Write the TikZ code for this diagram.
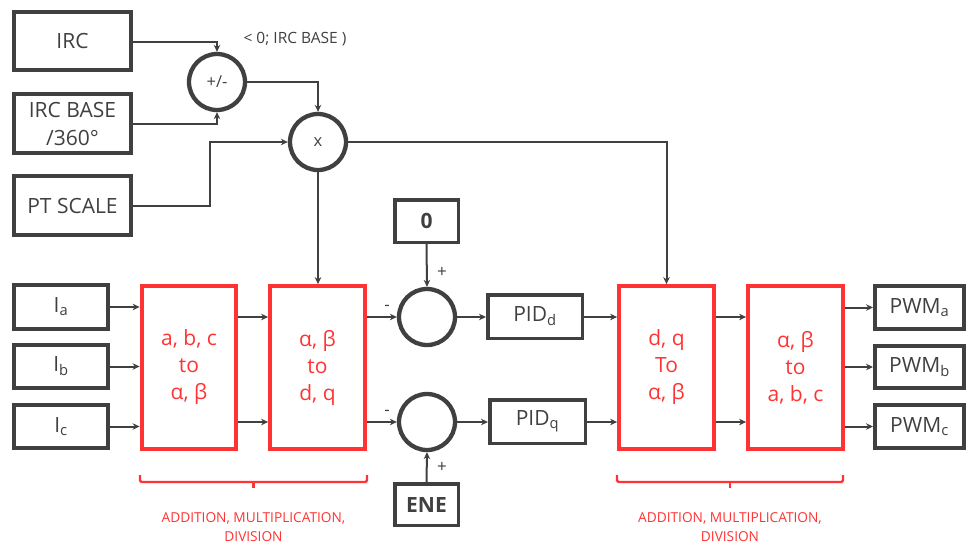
\documentclass[tikz,border=0pt]{standalone}
\usepackage{fontspec}
\setmainfont{Open Sans}
\usetikzlibrary{arrows.meta,calc}
\definecolor{dg}{RGB}{64,64,64}
\definecolor{rd}{RGB}{255,51,51}
\begin{document}
\begin{tikzpicture}[x=1pt,y=-1pt,
  box/.style={draw=dg,line width=4pt,text=dg,inner sep=0pt,align=center,
    font=\fontsize{21}{28}\selectfont},
  thinbox/.style={box,line width=3.5pt},
  bbox/.style={box,line width=3.5pt,font=\fontsize{21}{25}\selectfont\bfseries},
  redbox/.style={draw=rd,line width=4.3pt,text=rd,inner sep=0pt,align=center,
    minimum width=94.5pt,minimum height=162.5pt,font=\fontsize{21}{27}\selectfont},
  sumc/.style={circle,draw=dg,line width=4.3pt,inner sep=0pt,minimum size=56pt,
    text=dg,font=\fontsize{16.5}{18}\selectfont},
  conn/.style={draw=dg,line width=2pt,-{Stealth[length=7pt,width=6.5pt]}},
  lbl/.style={text=dg,inner sep=0pt,font=\fontsize{17}{18}\selectfont},
  brace/.style={draw=rd,line width=2.2pt,rounded corners=1.5pt},
  btxt/.style={text=rd,inner sep=0pt,align=center,font=\fontsize{13.7}{19}\selectfont}]
\useasboundingbox (0,0) rectangle (969,547);

% top inputs
\node[box,minimum width=117pt,minimum height=58pt] (irc) at (72.5,41) {IRC};
\node[box,minimum width=117pt,minimum height=59pt] (base) at (72.5,123.5) {IRC BASE\\/360°};
\node[box,minimum width=117pt,minimum height=59pt] (pt) at (72.5,205.5) {PT SCALE};
\node[sumc] (pm) at (217,82) {+/-};
\node[sumc] (mul) at (318,142) {x};
\node[lbl,font=\fontsize{15.5}{18}\selectfont] (range) at (295,39) {< 0; IRC BASE )};
\coordinate (ptx) at (210,0);

\draw[conn] (irc.east |- 0,42) -| (pm.north);
\draw[conn] (base.east |- 0,124) -| (pm.south);
\draw[conn] (pm.east) -| (mul.north);
\draw[conn] (pt.east) -- (pt.east -| ptx) |- (mul.west);

% current inputs
\node[box,minimum width=94pt,minimum height=43.5pt] (ia) at (61,307) {I\textsubscript{a}};
\node[box,minimum width=94pt,minimum height=43.5pt] (ib) at (61,366.5) {I\textsubscript{b}};
\node[box,minimum width=94pt,minimum height=43.5pt] (ic) at (61,426.5) {I\textsubscript{c}};

\node[redbox] (rb1) at (189,367.5) {a, b, c\\to\\α, β};
\node[redbox] (rb2) at (317.5,367.5) {α, β\\to\\d, q};
\node[redbox] (rb3) at (666.5,367.5) {d, q\\To\\α, β};
\node[redbox] (rb4) at (795.5,367.5) {α, β\\to\\a, b, c};

\node[sumc] (s1) at (427,317) {};
\node[sumc] (s2) at (427,422) {};
\node[bbox,minimum width=63.5pt,minimum height=42.5pt] (zero) at (426.5,221) {0};
\node[bbox,minimum width=63.5pt,minimum height=41.5pt] (ene) at (426.5,504.5) {ENE};
\node[thinbox,minimum width=94.5pt,minimum height=43.5pt] (pidd) at (535,316.5) {PID\textsubscript{d}};
\node[thinbox,minimum width=95.5pt,minimum height=43.5pt] (pidq) at (537.5,421.5) {PID\textsubscript{q}};

\node[box,minimum width=89pt,minimum height=43.5pt] (pwma) at (919.5,307.5) {PWM\textsubscript{a}};
\node[box,minimum width=89pt,minimum height=42.5pt] (pwmb) at (919.5,367) {PWM\textsubscript{b}};
\node[box,minimum width=89pt,minimum height=43.5pt] (pwmc) at (919.5,426.5) {PWM\textsubscript{c}};

\node[lbl] (m1) at (387,308) {-};
\node[lbl] (m2) at (387,413) {-};
\node[lbl] (p1) at (442,272) {+};
\node[lbl] (p2) at (442,467) {+};

% connectors lower
\draw[conn] (ia.east) -- (rb1.west |- ia.east);
\draw[conn] (ib.east) -- (rb1.west |- ib.east);
\draw[conn] (ic.east) -- (rb1.west |- ic.east);
\draw[conn] (rb1.east |- s1) -- (rb2.west |- s1);
\draw[conn] (rb1.east |- s2) -- (rb2.west |- s2);
\draw[conn] (rb2.east |- s1) -- (s1.west);
\draw[conn] (rb2.east |- s2) -- (s2.west);
\draw[conn] (mul.south) -- (rb2.north -| mul.south);
\draw[conn] (mul.east) -| (rb3.north);
\draw[conn] (zero.south) -- (s1.north);
\draw[conn] (ene.north) -- (s2.south);
\draw[conn] (s1.east) -- (pidd.west |- s1);
\draw[conn] (s2.east) -- (pidq.west |- s2);
\draw[conn] (pidd.east |- s1) -- (rb3.west |- s1);
\draw[conn] (pidq.east |- s2) -- (rb3.west |- s2);
\draw[conn] (rb3.east |- s1) -- (rb4.west |- s1);
\draw[conn] (rb3.east |- s2) -- (rb4.west |- s2);
\draw[conn] (rb4.east |- pwma) -- (pwma.west);
\draw[conn] (rb4.east |- pwmb) -- (pwmb.west);
\draw[conn] (rb4.east |- pwmc) -- (pwmc.west);

% braces
\draw[brace] (140,475) -- (140,482) -- (367,482) -- (367,475);
\draw[brace] (253.5,482) -- (253.5,488);
\draw[brace] (617,475) -- (617,482) -- (843,482) -- (843,475);
\draw[brace] (730,482) -- (730,488);
\node[btxt] (t1) at (253.5,527) {ADDITION, MULTIPLICATION,\\DIVISION};
\node[btxt] (t2) at (730,527) {ADDITION, MULTIPLICATION,\\DIVISION};
\end{tikzpicture}
\end{document}
